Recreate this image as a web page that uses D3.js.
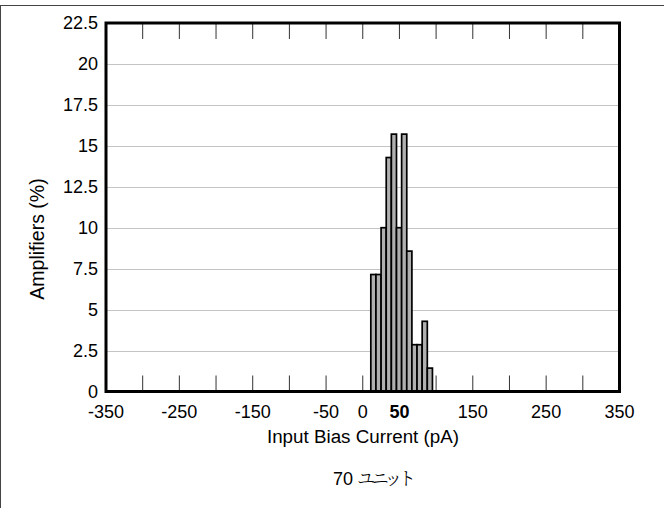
<!DOCTYPE html>
<html><head><meta charset="utf-8">
<script src="https://cdn.jsdelivr.net/npm/d3@7"></script>
<style>
html,body{margin:0;padding:0;background:#fff;}
text{font-family:"Liberation Sans",Arial,sans-serif;}
</style>
</head><body>
<svg id="chart" width="664" height="508"></svg>
<script>
// ---- data ----
const binStarts = [11,18,25,32,39,46,53,60,67,74,81,88]; // pA, bin lower edges
const binWidth = 7; // pA
const unitCounts = [5,5,7,10,11,7,11,6,2,2,3,1];
const totalUnits = 70;
const percents = unitCounts.map(c => c / totalUnits * 100);
const xTickLabels = [-350,-250,-150,-50,0,50,150,250,350];
const xTickMarks = [-300,-250,-200,-150,-100,-50,0,50,100,150,200,250,300];
const yTicks = [0,2.5,5,7.5,10,12.5,15,17.5,20,22.5];
const xTitle = "Input Bias Current (pA)";
const yTitle = "Amplifiers (%)";
const noteNumber = "70";
const noteWord = "ユニット";

// ---- layout ----
const svg = d3.select("#chart");
const L = 106, R = 619.5, T = 23, B = 391.5;
const x = d3.scaleLinear().domain([-350,350]).range([L,R]);
const y = d3.scaleLinear().domain([0,22.5]).range([B,T]);

svg.append("rect").attr("width",664).attr("height",508).attr("fill","#fff");
// outer border (top & left)
svg.append("line").attr("x1",0).attr("x2",664).attr("y1",5.5).attr("y2",5.5).attr("stroke","#444").attr("stroke-width",1);
svg.append("line").attr("x1",0.5).attr("x2",0.5).attr("y1",5).attr("y2",508).attr("stroke","#444").attr("stroke-width",1);

// grid
svg.append("g").selectAll("line").data(yTicks.filter(v => v>0 && v<22.5)).join("line")
  .attr("x1",L).attr("x2",R).attr("y1",d=>Math.round(y(d))+0.5).attr("y2",d=>Math.round(y(d))+0.5)
  .attr("stroke","#c4c4c4").attr("stroke-width",1);

// tick marks bottom and top
const tg = svg.append("g");
tg.selectAll("line.b").data(xTickMarks).join("line").attr("class","b")
  .attr("x1",d=>x(d)).attr("x2",d=>x(d)).attr("y1",B).attr("y2",B-16)
  .attr("stroke","#333").attr("stroke-width",1);
tg.selectAll("line.t").data(xTickMarks).join("line").attr("class","t")
  .attr("x1",d=>x(d)).attr("x2",d=>x(d)).attr("y1",T).attr("y2",T+16)
  .attr("stroke","#333").attr("stroke-width",1);

// bars
svg.append("g").selectAll("rect").data(binStarts).join("rect")
  .attr("x",(d)=>x(d))
  .attr("width",(d)=>x(d+binWidth)-x(d))
  .attr("y",(d,i)=>y(percents[i]))
  .attr("height",(d,i)=>y(0)-y(percents[i]))
  .attr("fill","#b0b0b0").attr("stroke","#000").attr("stroke-width",1.7);

// frame
svg.append("rect").attr("x",L).attr("y",T).attr("width",R-L).attr("height",B-T)
  .attr("fill","none").attr("stroke","#000").attr("stroke-width",3);

// x tick labels
svg.append("g").selectAll("text").data(xTickLabels).join("text")
  .attr("x",d=>x(d)).attr("y",418).attr("text-anchor","middle")
  .attr("font-size",18).attr("font-weight",d=>d===50?"bold":"normal")
  .attr("fill","#000").text(d=>d);

// y tick labels
svg.append("g").selectAll("text").data(yTicks).join("text")
  .attr("x",98).attr("y",d=>y(d)).attr("dy","0.36em").attr("text-anchor","end")
  .attr("font-size",18).attr("fill","#000").text(d=>d);

// titles
svg.append("text").attr("x",363).attr("y",443).attr("text-anchor","middle")
  .attr("font-size",18.8).attr("fill","#000").text(xTitle);
svg.append("text").attr("transform","translate(44,239) rotate(-90)").attr("text-anchor","middle")
  .attr("font-size",19.5).attr("fill","#000").text(yTitle);
const note = svg.append("text").attr("x",333).attr("y",485).attr("text-anchor","start")
  .attr("font-size",18).attr("fill","#000");
note.append("tspan").style("font-family",'"Liberation Sans",Arial,sans-serif').text(noteNumber);
note.append("tspan").style("font-family",'"Noto Serif CJK JP","Noto Sans CJK JP",serif')
  .attr("font-size",18).attr("font-weight",300).attr("dx",4).attr("letter-spacing",-4).attr("dy",-0.5).text(noteWord);
</script>
</body></html>
